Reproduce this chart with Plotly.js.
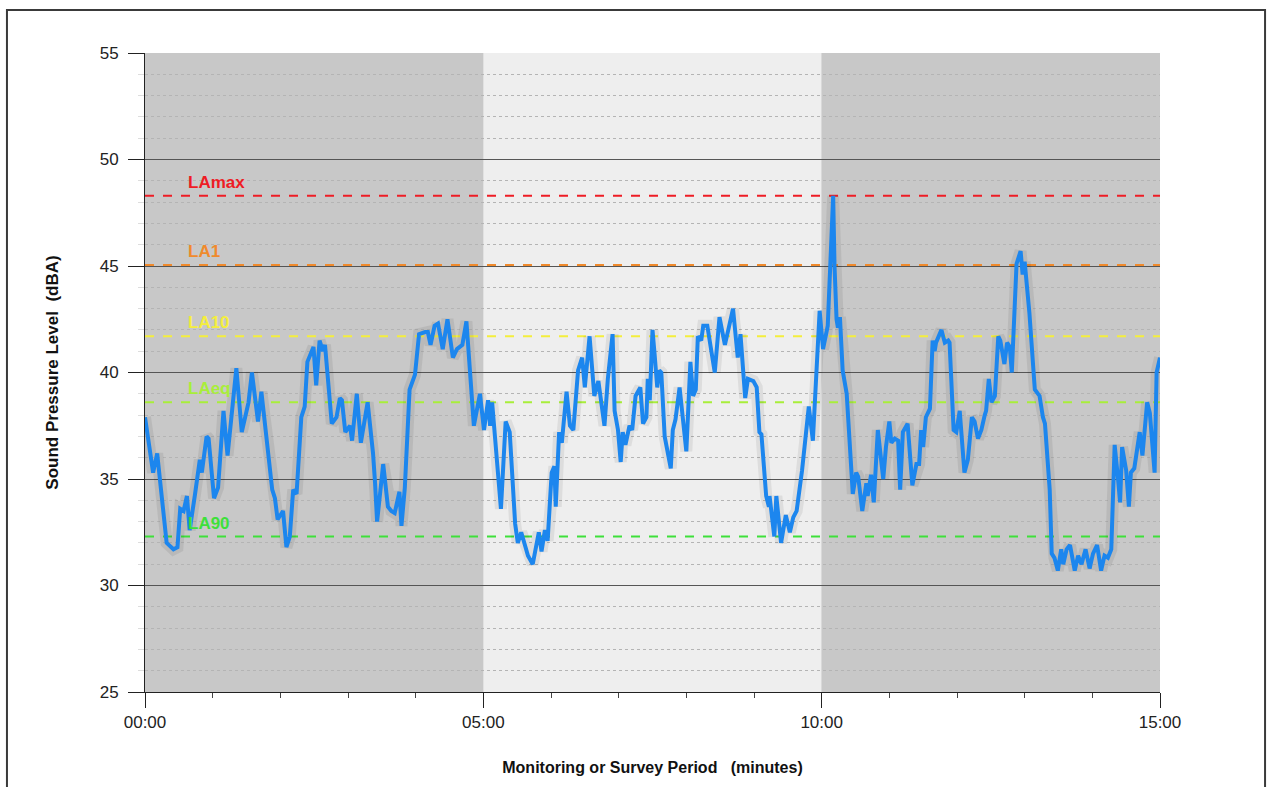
<!DOCTYPE html>
<html>
<head>
<meta charset="utf-8">
<script src="https://cdn.plot.ly/plotly-3.0.1.min.js"></script>
<style>
  html, body { margin: 0; padding: 0; background: #ffffff; }
  #chart { width: 1269px; height: 787px; }
</style>
</head>
<body>
<div id="chart"></div>
<script>
// ---- Data (minutes since start, dBA) ----
const timeMinutes = [0.00,0.12,0.18,0.32,0.42,0.48,0.52,0.57,0.62,0.66,
0.74,0.81,0.84,0.91,0.94,1.02,1.08,1.16,1.22,1.35,
1.43,1.48,1.53,1.58,1.67,1.72,1.77,1.82,1.88,1.92,
1.96,2.04,2.09,2.14,2.19,2.24,2.31,2.36,2.40,2.49,
2.53,2.58,2.63,2.66,2.76,2.83,2.88,2.91,2.96,3.03,
3.06,3.13,3.19,3.29,3.37,3.40,3.43,3.52,3.59,3.64,
3.69,3.76,3.79,3.84,3.91,3.99,4.05,4.14,4.18,4.22,
4.28,4.33,4.40,4.47,4.55,4.61,4.69,4.75,4.80,4.86,
4.95,5.01,5.07,5.10,5.13,5.26,5.33,5.39,5.47,5.51,
5.56,5.66,5.73,5.77,5.82,5.86,5.91,5.95,6.01,6.05,
6.07,6.12,6.16,6.23,6.28,6.33,6.40,6.46,6.50,6.57,
6.64,6.70,6.79,6.84,6.91,6.94,6.99,7.03,7.06,7.10,
7.16,7.20,7.25,7.32,7.36,7.41,7.43,7.46,7.50,7.53,
7.57,7.60,7.63,7.68,7.71,7.77,7.80,7.84,7.90,7.94,
8.00,8.06,8.10,8.14,8.17,8.22,8.25,8.31,8.37,8.42,
8.49,8.57,8.62,8.69,8.76,8.80,8.87,8.91,8.99,9.04,
9.08,9.11,9.18,9.22,9.23,9.30,9.33,9.40,9.47,9.53,
9.58,9.63,9.71,9.77,9.81,9.87,9.97,10.02,10.09,10.17,
10.19,10.22,10.24,10.27,10.31,10.37,10.41,10.46,10.51,10.54,
10.60,10.66,10.68,10.73,10.77,10.83,10.91,10.95,11.00,11.03,
11.08,11.13,11.16,11.20,11.27,11.34,11.40,11.44,11.47,11.50,
11.54,11.60,11.64,11.67,11.69,11.77,11.82,11.87,11.89,11.95,
11.99,12.04,12.11,12.16,12.22,12.26,12.31,12.36,12.41,12.43,
12.47,12.51,12.56,12.61,12.64,12.70,12.74,12.78,12.81,12.88,
12.94,12.97,13.00,13.07,13.15,13.22,13.27,13.30,13.37,13.40,
13.44,13.49,13.54,13.57,13.62,13.67,13.74,13.79,13.84,13.90,
13.96,14.01,14.07,14.13,14.18,14.23,14.28,14.33,14.38,14.41,
14.44,14.50,14.54,14.57,14.62,14.67,14.70,14.74,14.77,14.81,
14.85,14.92,14.95,15.00];

const soundLevel = [37.9,35.3,36.2,32.0,31.7,31.8,33.6,33.5,34.2,32.6,
34.3,35.9,35.3,37.0,36.9,34.1,34.6,38.2,36.1,40.2,
37.2,37.9,38.6,40.0,37.7,39.1,37.6,35.9,34.5,34.1,
33.1,33.5,31.8,32.3,34.5,34.3,37.9,38.4,40.5,41.2,
39.4,41.5,41.0,41.3,37.6,37.9,38.8,38.7,37.2,37.5,
36.8,39.0,36.7,38.6,36.2,34.8,33.0,35.7,33.7,33.5,
33.4,34.4,32.8,34.6,39.2,39.9,41.8,41.9,41.9,41.3,
42.2,42.3,41.1,42.5,40.7,41.1,41.3,42.4,40.3,37.5,
39.0,37.3,38.7,37.5,38.6,33.6,37.7,37.2,32.9,32.0,
32.5,31.4,31.0,31.7,32.5,31.6,32.6,32.1,35.3,35.6,
33.7,37.2,36.7,39.1,37.5,37.3,40.1,40.7,39.3,41.7,
38.9,39.6,37.5,39.7,41.8,38.2,37.3,35.8,37.2,36.6,
37.5,37.3,38.9,39.3,37.6,37.9,39.7,38.7,42.0,40.9,
39.3,40.1,40.0,37.0,36.5,35.5,37.3,37.8,39.3,37.9,
36.3,40.5,38.9,39.2,41.7,41.5,42.2,42.2,41.1,40.0,
42.6,41.3,42.0,43.0,40.7,41.8,38.8,39.7,39.6,39.3,
37.2,37.1,34.2,33.7,34.2,32.3,34.2,32.0,33.3,32.5,
33.2,33.5,35.4,37.0,38.4,36.8,42.9,41.1,42.2,48.3,
45.0,42.5,42.1,42.6,40.1,39.0,37.2,34.3,35.3,35.1,
33.5,34.8,34.2,35.2,33.9,37.3,35.0,36.5,37.7,36.7,
36.9,36.8,34.5,37.2,37.6,34.7,35.7,35.7,37.3,36.5,
37.9,38.3,41.5,41.0,41.4,42.0,41.4,41.5,41.4,37.3,
37.2,38.2,35.3,35.9,37.9,37.7,36.9,37.3,38.0,38.2,
39.7,38.6,38.9,41.7,41.5,40.4,41.4,41.2,40.0,45.1,
45.7,44.6,45.2,42.8,39.2,38.9,37.9,37.6,34.5,31.5,
31.3,30.7,31.7,31.0,31.7,31.9,30.7,31.4,31.0,31.7,
30.8,31.5,31.9,30.7,31.4,31.3,31.7,36.6,35.0,33.9,
36.5,35.4,33.7,35.3,35.5,36.5,37.2,36.1,37.0,38.6,
38.1,35.3,40.0,40.7];

// Statistical levels
const statNames  = ["LAmax", "LA1", "LA10", "LAeq", "LA90"];
const statValues = [48.3, 45.05, 41.7, 38.6, 32.3];
const statColors = ["#ee1c25", "#f08a2c", "#f4ee3c", "#a8ee3a", "#3ee03a"];

// Period shading (minutes)
const periodStarts = [0, 5, 10];
const periodEnds   = [5, 10, 15];
const periodFills  = ["#c8c8c8", "#eeeeee", "#c8c8c8"];

// Axis ticks
const xTickVals = [0, 5, 10, 15];
const xTickText = ["00:00", "05:00", "10:00", "15:00"];
const yTickVals = [25, 30, 35, 40, 45, 50, 55];

const fam = "Liberation Sans Narrow, Arial Narrow, Liberation Sans, Arial, sans-serif";
const tickFont = { family: fam, size: 17, color: "#222" };
const xTitleFont = { family: fam, size: 16, color: "#111", weight: "bold" };
const yTitleFont = { family: fam, size: 17, color: "#111", weight: "bold" };

const traces = [];
// reference lines
statNames.forEach((n, i) => {
  traces.push({
    x: [0, 15], y: [statValues[i], statValues[i]],
    mode: "lines", type: "scatter", hoverinfo: "skip", showlegend: false,
    line: { color: statColors[i], width: 2, dash: "dash" }
  });
});
// soft shadow
traces.push({
  x: timeMinutes, y: soundLevel, mode: "lines", type: "scatter",
  showlegend: false, hoverinfo: "skip",
  line: { color: "rgba(0,0,0,0.07)", width: 12, shape: "linear" }
});
// main series
traces.push({
  x: timeMinutes, y: soundLevel, mode: "lines", type: "scatter",
  name: "Sound Pressure Level", showlegend: false,
  line: { color: "#1c86ee", width: 4, shape: "linear" }
});

const shapes = periodStarts.map((s, i) => ({
  type: "rect", xref: "x", yref: "paper", x0: s, x1: periodEnds[i], y0: 0, y1: 1,
  fillcolor: periodFills[i], line: { width: 0 }, layer: "below"
}));
// outer frame
shapes.push({
  type: "rect", xref: "paper", yref: "paper",
  x0: -0.136, x1: 1.1035, y0: -0.16, y1: 1.0673,
  line: { color: "#3a3a3a", width: 2 }, fillcolor: "rgba(0,0,0,0)", layer: "above"
});

const annotations = statNames.map((n, i) => ({
  x: 0.6, y: statValues[i], xref: "x", yref: "y",
  text: n, showarrow: false, xanchor: "left", yanchor: "bottom", yshift: 2,
  font: { family: fam, size: 17, color: statColors[i], weight: "bold" }
}));

const layout = {
  width: 1269, height: 787,
  margin: { l: 145, r: 109, t: 53, b: 95 },
  paper_bgcolor: "#ffffff",
  plot_bgcolor: "#c8c8c8",
  showlegend: false,
  shapes: shapes,
  annotations: annotations,
  xaxis: {
    range: [0, 15], tickmode: "array", tickvals: xTickVals, ticktext: xTickText,
    ticks: "outside", ticklen: 15, tickwidth: 1, tickcolor: "#222",
    showgrid: false, zeroline: false, showline: true, linecolor: "#222", linewidth: 1,
    tickfont: tickFont,
    minor: { tickmode: "linear", tick0: 0, dtick: 1, ticks: "outside", ticklen: 5, tickcolor: "#444", showgrid: false },
    title: { text: "Monitoring or Survey Period   (minutes)", font: xTitleFont, standoff: 30 }
  },
  yaxis: {
    range: [25, 55], tickmode: "array", tickvals: yTickVals,
    ticks: "outside", ticklen: 16, tickwidth: 1, tickcolor: "#222",
    showgrid: true, gridcolor: "#555555", gridwidth: 1,
    zeroline: false, showline: true, linecolor: "#222", linewidth: 1,
    tickfont: tickFont, ticklabelstandoff: 6,
    minor: { tickmode: "linear", tick0: 25, dtick: 1, showgrid: true, gridcolor: "#b4b4b4", griddash: "dot", gridwidth: 1, ticks: "outside", ticklen: 6, tickcolor: "#dddddd" },
    title: { text: "Sound Pressure Level  (dBA)", font: yTitleFont, standoff: 36 }
  }
};

Plotly.newPlot("chart", traces, layout, { displayModeBar: false, responsive: false, staticPlot: true });
</script>
</body>
</html>
